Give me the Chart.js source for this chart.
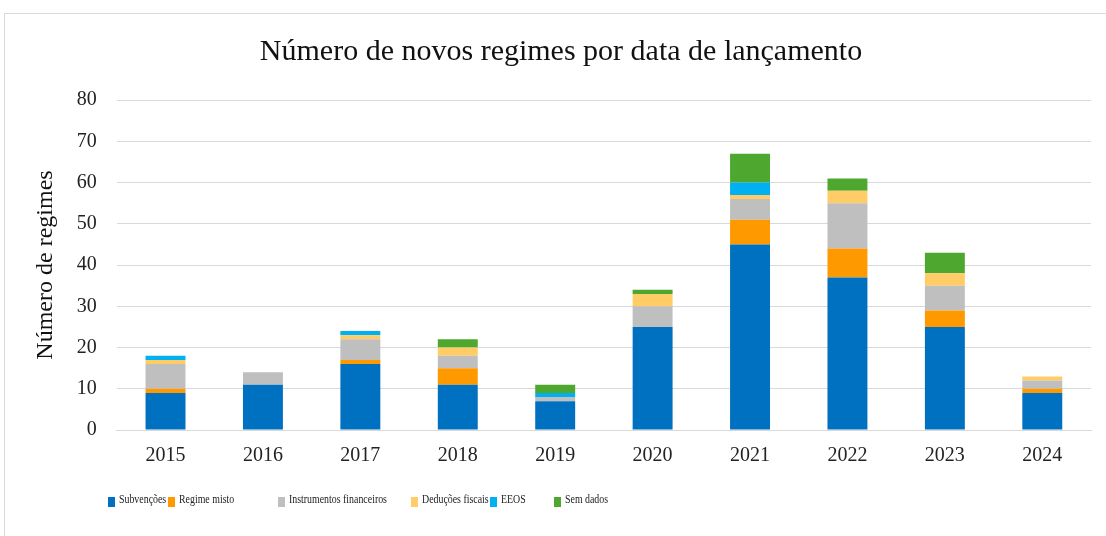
<!DOCTYPE html>
<html>
<head>
<meta charset="utf-8">
<script src="https://cdn.jsdelivr.net/npm/chart.js@4/dist/chart.umd.min.js"></script>
<style>
  html, body { margin: 0; padding: 0; background: #fff; }
  .frame { position: absolute; left: 4px; top: 13px; width: 1120px; height: 560px; border: 1px solid #d9d9d9; }
  .wrap { position: absolute; left: 0; top: 0; width: 1106px; height: 536px; }
</style>
</head>
<body>
<div class="frame"></div>
<div class="wrap"><canvas id="chart" width="1106" height="536"></canvas></div>
<script>
const years = ['2015', '2016', '2017', '2018', '2019', '2020', '2021', '2022', '2023', '2024'];

const subvencoes = [9, 11, 16, 11, 7, 25, 45, 37, 25, 9];
const regimeMisto = [1, 0, 1, 4, 0, 0, 6, 7, 4, 1];
const instrumentosFinanceiros = [6, 3, 5, 3, 1, 5, 5, 11, 6, 2];
const deducoesFiscais = [1, 0, 1, 2, 0, 3, 1, 3, 3, 1];
const eeos = [1, 0, 1, 0, 1, 0, 3, 0, 0, 0];
const semDados = [0, 0, 0, 2, 2, 1, 7, 3, 5, 0];

const seriesNames = ['Subvenções', 'Regime misto', 'Instrumentos financeiros', 'Deduções fiscais', 'EEOS', 'Sem dados'];
const seriesColors = ['#0070C0', '#FF9900', '#BFBFBF', '#FFCC66', '#00B0F0', '#4EA72E'];
const seriesValues = [subvencoes, regimeMisto, instrumentosFinanceiros, deducoesFiscais, eeos, semDados];

// legend entries are spaced unevenly in the original, so draw them by hand
const legendX = [108, 168, 278, 411, 490, 554];

const serif = '"Liberation Serif", "Times New Roman", serif';

const legendPlugin = {
  id: 'manualLegend',
  afterDraw(chart) {
    const ctx = chart.ctx;
    ctx.save();
    ctx.font = '13px ' + serif;
    ctx.textBaseline = 'middle';
    seriesNames.forEach((name, i) => {
      const x = legendX[i];
      ctx.fillStyle = seriesColors[i];
      ctx.fillRect(x, 497, 7, 10);
      ctx.fillStyle = '#222';
      // the original legend text is narrow, squeeze it a bit
      ctx.save();
      ctx.translate(x + 11, 500);
      ctx.scale(0.76, 1);
      ctx.fillText(name, 0, 0);
      ctx.restore();
    });
    ctx.restore();
  },
};

new Chart(document.getElementById('chart'), {
  type: 'bar',
  data: {
    labels: years,
    datasets: seriesValues.map((values, i) => ({
      label: seriesNames[i],
      data: values,
      backgroundColor: seriesColors[i],
      borderWidth: 0,
      categoryPercentage: 1,
      barPercentage: 0.41,
    })),
  },
  options: {
    responsive: false,
    animation: false,
    layout: { padding: { top: 28, left: 31, right: 15, bottom: 54 } },
    plugins: {
      legend: { display: false },
      tooltip: { enabled: false },
      title: {
        display: true,
        text: 'Número de novos regimes por data de lançamento',
        color: '#111',
        font: { family: serif, size: 30, weight: 'normal' },
        padding: { top: 6.5, bottom: 29.5 },
      },
    },
    scales: {
      x: {
        stacked: true,
        grid: { display: false, drawTicks: false },
        border: { display: true, color: '#d9d9d9', width: 1 },
        ticks: { color: '#222', padding: 14, font: { family: serif, size: 20 } },
      },
      y: {
        stacked: true,
        min: 0,
        max: 80,
        afterFit: (scale) => { scale.width -= 3; },
        ticks: { stepSize: 10, color: '#222', padding: 20, font: { family: serif, size: 20 } },
        grid: { color: '#d9d9d9', drawTicks: false },
        border: { display: false },
        title: {
          display: true,
          text: 'Número de regimes',
          color: '#111',
          font: { family: serif, size: 24 },
          padding: { top: 0, bottom: 0 },
        },
      },
    },
  },
  plugins: [legendPlugin],
});
</script>
</body>
</html>
